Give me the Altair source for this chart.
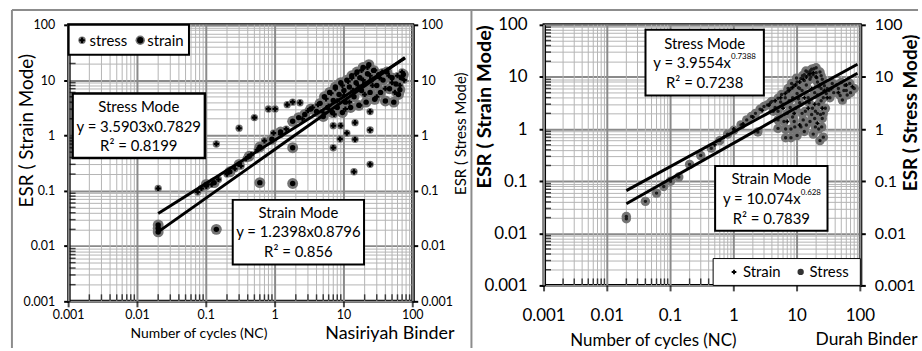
import altair as alt
import pandas as pd

FONT = "Lato"

# ---------------- Nasiriyah binder ----------------
nas_stress_nc = [0.02, 0.075, 0.085, 0.1, 0.12, 0.14, 0.15, 0.2, 0.26, 0.3, 0.32, 0.38, 0.45, 0.5,
                 0.55, 0.7, 0.8, 0.95, 1.0, 1.2, 1.45, 1.5, 1.8, 2.3, 2.5, 3.0, 3.5, 4.2,
                 5, 5.5, 6, 6.5, 7, 7, 7.2, 7.5, 8, 8.8, 9, 9.5, 10, 10.5, 11, 11.5, 12, 13,
                 13.5, 14, 14.5, 14.5, 15, 16, 17, 18, 19, 20, 22, 24, 24, 24, 24, 26, 28, 30,
                 33, 36, 40, 45, 50, 55, 60, 65, 70, 75]
nas_stress_esr = [0.11, 0.095, 0.11, 0.12, 0.13, 0.7, 0.16, 0.2, 0.25, 1.35, 0.28, 0.38, 0.45, 2.1,
                  0.55, 0.8, 3.0, 1.1, 3.0, 1.05, 1.3, 3.6, 4.0, 3.9, 2.0, 2.8, 3.2, 3.6,
                  2.6, 4.6, 3.4, 5.8, 0.6, 1.5, 2.4, 7.0, 4.2, 0.86, 1.5, 8.0, 5.3, 3.0, 1.1, 9.5, 4.0, 11.0,
                  6.5, 0.22, 0.85, 1.7, 13.0, 8.0, 3.5, 15.0, 10.0, 5.5, 17.0, 0.3, 1.25, 2.7, 12.0, 8.0, 15.0, 5.0,
                  11.0, 14.0, 7.0, 12.0, 9.0, 6.0, 12.0, 8.0, 14.0, 10.0]
nas_strain_nc = [0.02, 0.02, 0.02, 0.1, 0.13, 0.14, 0.22, 0.3, 0.42, 0.6, 0.6, 0.9, 1.2, 1.8, 1.8,
                 1.8, 2.2, 2.7, 3.3, 4, 4.5,
                 5, 5.2, 5.8, 6.2, 6.8, 7, 7.5, 8, 8.5, 9, 9.5, 10, 10.5, 11, 12, 12.5, 13, 14,
                 15, 15.5, 16.5, 17, 18, 19, 20, 21, 22, 23, 24, 25, 27, 28, 30, 32, 34, 37, 40,
                 42, 46, 50, 53, 57, 62, 65, 68, 73]
nas_strain_esr = [0.018, 0.021, 0.024, 0.13, 0.14, 0.02, 0.22, 0.3, 0.42, 0.14, 0.62, 0.85, 1.15, 0.135, 0.6,
                  1.8, 2.1, 2.4, 3.0, 2.7, 3.8,
                  2.2, 5.0, 3.2, 6.0, 2.6, 4.3, 7.5, 3.2, 5.5, 9.0, 2.6, 6.5, 4.0, 10.0, 7.5, 3.2, 12.0, 5.0,
                  9.0, 14.0, 3.5, 11.0, 6.5, 17.0, 8.5, 4.0, 13.0, 19.0, 6.0, 10.0, 15.0, 4.5, 8.0, 12.5, 6.0, 10.0, 4.2,
                  14.0, 7.0, 11.0, 4.0, 8.5, 5.5, 6.7, 11.0, 12.6]

# power-law trend lines (end points)
nas_fit_nc = [0.02, 77, 0.02, 77]
nas_fit_esr = [0.0386, 24.8, 0.018, 25.6]
nas_fit_mode = ["Stress", "Stress", "Strain", "Strain"]

# ---------------- Durah binder ----------------
dur_stress_nc = [0.02, 0.02, 0.04, 0.06, 0.078, 0.1, 0.135, 0.2, 0.3, 0.44, 0.6, 0.8, 1.0, 1.3, 1.6,
                 1.9, 2.2, 2.4, 2.6, 3.0, 3.4, 4, 4.5, 5, 5, 5, 5, 5.7, 6, 6.6, 6.6, 7, 7, 7.5, 8, 8,
                 8, 8.5, 9, 9, 9.5, 10, 10, 11, 11.5, 12, 12.5, 13, 13, 13.5, 14, 14.6, 15, 16, 16,
                 17, 17.5, 18, 18.5, 19, 19, 20, 21, 22, 22, 23, 23, 24, 25, 25, 26, 28, 30, 33,
                 38, 42, 48, 52, 55, 57, 62, 68, 80,
                 6.2, 7.8, 9.2, 10.5, 12, 14, 15.5, 17, 19.5, 21, 23.5, 26, 11, 13, 16.5, 20, 24,
                 3.8, 4.2, 5.5, 6.5, 7.2, 8.2, 9.8, 10.5, 12.2, 13.8, 15.2, 16.2, 18, 20.5, 22, 24,
                 27, 29, 32, 36, 45, 50, 60, 70, 8.5, 10, 11.5, 19.5, 21, 24.5, 26]
dur_stress_esr = [0.019, 0.021, 0.041, 0.059, 0.079, 0.1, 0.12, 0.21, 0.31, 0.43, 0.6, 0.8, 0.95, 1.2, 1.5,
                  1.75, 2.0, 0.88, 2.4, 2.7, 2.9, 3.4, 2.6, 3.9, 1.03, 1.5, 2.2, 4.6, 3.0, 0.68, 1.0, 5.2, 2.0, 3.5, 0.68, 1.0,
                  6.0, 4.0, 6.9, 1.4, 2.5, 8.0, 4.8, 3.2, 9.3, 5.5, 1.5, 0.9, 11.0, 2.2, 7.0, 12.4, 4.0, 1.4, 9.0,
                  14.0, 2.5, 0.8, 14.3, 5.0, 1.6, 12.0, 8.0, 1.0, 3.0, 12.4, 0.6, 6.0, 1.6, 9.0, 4.0, 2.5, 6.0, 4.0,
                  5.0, 7.0, 4.4, 3.6, 5.5, 6.9, 4.5, 7.5, 6.0,
                  1.4, 2.6, 1.1, 3.8, 2.0, 1.2, 3.2, 1.9, 2.2, 4.5, 1.9, 2.0, 6.0, 8.5, 10.0, 15.0, 10.5,
                  3.2, 2.2, 3.3, 4.0, 6.0, 7.5, 9.5, 6.2, 10.5, 13.0, 11.0, 13.2, 11.0, 9.6, 6.5, 3.5,
                  6.8, 4.8, 5.5, 7.5, 6.0, 7.8, 5.5, 5.0, 1.7, 0.75, 1.1, 1.1, 2.0, 1.1, 0.7]
dur_strain_nc = [0.5, 0.7, 1.0, 1.4, 2, 2.8, 3.6, 4.5, 5.5, 6.5, 7.5, 8.5, 9.5, 11, 12.5, 14, 16, 18,
                 20, 6, 7, 9, 11, 13, 15, 17, 19, 21, 23, 25, 27, 30, 35, 45, 60, 75]
dur_strain_esr = [0.5, 0.7, 1.0, 1.25, 1.7, 2.3, 2.9, 3.5, 4.0, 4.8, 5.5, 6.3, 7.0, 8.0, 9.0, 10.0, 11.5, 12.0,
                  10.0, 2.5, 1.4, 2.0, 1.2, 4.0, 2.5, 6.0, 3.0, 1.3, 7.0, 2.5, 5.5, 4.0, 6.0, 5.0, 7.0, 6.5]

dur_fit_nc = [0.02, 90, 0.02, 90]
dur_fit_esr = [0.066, 17.5, 0.037, 11.8]
dur_fit_mode = ["Stress", "Stress", "Strain", "Strain"]

# ---------------- axis ticks ----------------
MAJORS = [0.001, 0.01, 0.1, 1, 10, 100]
MAJOR_LABELS = ["0.001", "0.01", "0.1", "1", "10", "100"]
TICKS = [m * 10.0 ** e for e in range(-3, 2) for m in range(1, 10)] + [100.0]
MINORS = [t for t in TICKS if t not in MAJORS]
IS_MAJOR = "indexof([0.001, 0.01, 0.1, 1, 10, 100], datum.value) >= 0"
LABEL_EXPR = f"{IS_MAJOR} ? format(datum.value, '.3~f') : ''"
LOG = alt.Scale(type="log", domain=[0.001, 100])

ONE = pd.DataFrame({"k": [0]})
GRAY = "#747474"
GRID_MAJOR = "#8a8a8a"
GRID_MINOR = "#b4b4b4"


def y_axis(orient, label_size, label_pad, title, title_x, title_y, title_size,
           title_weight="normal", grid=True, values=None):
    kw = dict(
        orient=orient, values=values if values is not None else TICKS,
        labelExpr=LABEL_EXPR, labelFont=FONT, labelFontSize=label_size, labelColor="black",
        labelPadding=label_pad, labelOverlap=False, labelFlush=False, labelBound=False,
        tickColor="black", tickWidth=2, tickSize=5,
        tickOpacity={"condition": {"test": IS_MAJOR, "value": 1}, "value": 0},
        domainColor="black", domainWidth=3, grid=grid,
        title=title, titleFont=FONT, titleFontSize=title_size, titleFontWeight=title_weight,
        titleColor="black", titleX=title_x, titleY=title_y, titleAngle=270,
        titleAlign="center", titleBaseline="middle",
    )
    if grid:
        kw["gridColor"] = {"condition": {"test": IS_MAJOR, "value": GRID_MAJOR}, "value": GRID_MINOR}
        kw["gridWidth"] = {"condition": {"test": IS_MAJOR, "value": 2}, "value": 1}
    return alt.Axis(**kw)


def xq(axis=None):
    return alt.X("nc:Q", scale=LOG, axis=axis)


def yq(axis=None):
    return alt.Y("esr:Q", scale=LOG, axis=axis)


def txt(text, x, y, size, align="center", weight="normal", baseline="middle"):
    return alt.Chart(ONE).mark_text(
        text=text, align=align, baseline=baseline, font=FONT, fontSize=size,
        fontWeight=weight, color="black"
    ).encode(x=alt.value(x), y=alt.value(y))


def box(x, x2, y, y2, sw):
    return alt.Chart(ONE).mark_rect(fill="white", stroke="black", strokeWidth=sw).encode(
        x=alt.value(x), x2=alt.value(x2), y=alt.value(y), y2=alt.value(y2))


def dot(x, y, shape, size, color):
    return alt.Chart(ONE).mark_point(shape=shape, size=size, filled=True, color=color, opacity=1).encode(
        x=alt.value(x), y=alt.value(y))


def frame_line(x, x2, y, y2):
    return alt.Chart(ONE).mark_rule(color="#8c8c8c", strokeWidth=2).encode(
        x=alt.value(x), x2=alt.value(x2), y=alt.value(y), y2=alt.value(y2))


def x_grid_ticks_labels(H, label_y, label_size):
    mdf = pd.DataFrame({"nc": MINORS, "esr": MINORS})
    jdf = pd.DataFrame({"nc": MAJORS, "lbl": MAJOR_LABELS})
    grid_minor = alt.Chart(mdf).mark_rule(color=GRID_MINOR, strokeWidth=1).encode(
        x=xq(), y=alt.value(0), y2=alt.value(H))
    grid_major = alt.Chart(jdf).mark_rule(color=GRID_MAJOR, strokeWidth=2).encode(
        x=xq(), y=alt.value(0), y2=alt.value(H))
    inner_bottom = alt.Chart(mdf).mark_tick(color="black", size=6, thickness=1.5).encode(
        x=xq(), y=alt.value(H - 4))
    inner_left = alt.Chart(mdf).mark_tick(color="black", size=6, thickness=1.5).encode(
        y=yq(), x=alt.value(4))
    outer = alt.Chart(jdf).mark_tick(color="black", size=6, thickness=2).encode(
        x=xq(), y=alt.value(H + 3))
    labels = alt.Chart(jdf).mark_text(font=FONT, fontSize=label_size, color="black",
                                      baseline="middle").encode(
        x=xq(), y=alt.value(label_y), text="lbl:N")
    return [grid_minor, grid_major, inner_bottom, inner_left, outer, labels]


def points(df, shape, size, color):
    return alt.Chart(df).mark_point(shape=shape, size=size, filled=True, color=color, opacity=1).encode(
        x=xq(), y=yq())


# ================= Nasiriyah panel =================
W1, H1 = 346, 278
nas_st = pd.DataFrame({"nc": nas_stress_nc, "esr": nas_stress_esr})
nas_sn = pd.DataFrame({"nc": nas_strain_nc, "esr": nas_strain_esr})
nas_fit = pd.DataFrame({"nc": nas_fit_nc, "esr": nas_fit_esr, "mode": nas_fit_mode})

nas_axes = alt.Chart(nas_fit).mark_point(opacity=0).encode(
    x=xq(),
    y=yq(y_axis("left", 12.5, 9, "ESR ( Strain Mode)", -42, 106, 19)),
)
nas_right = alt.Chart(nas_fit).mark_point(opacity=0).encode(
    x=xq(),
    y=yq(y_axis("right", 12.5, 3, "ESR ( Stress Mode)", 48, 109, 15, grid=False, values=MAJORS)),
)

left_layers = [nas_axes, nas_right] + x_grid_ticks_labels(H1, 291.5, 12.5) + [
    points(nas_sn, "circle", 120, GRAY),
    points(nas_st, "circle", 55, GRAY),
    points(nas_sn, "circle", 30, "black"),
    points(nas_st, "cross", 28, "black"),
    alt.Chart(nas_fit).mark_line(color="black", strokeWidth=3).encode(
        x=xq(), y=yq(), detail="mode:N"),
    # legend
    box(0, 121, 0, 30, 2),
    dot(13.5, 15.5, "circle", 55, GRAY), dot(13.5, 15.5, "cross", 30, "black"),
    txt("stress", 21, 16, 15, align="left"),
    dot(72, 15.5, "circle", 90, GRAY), dot(72, 15.5, "circle", 40, "black"),
    txt("strain", 79, 16, 15, align="left"),
    # regression boxes
    box(4, 137, 69, 134, 2.5),
    txt("Stress Mode", 70.5, 83, 15),
    txt("y = 3.5903x0.7829", 70.5, 103, 15),
    txt("R\u00b2 = 0.8199", 70.5, 122, 15),
    box(165, 297, 176, 241, 2),
    txt("Strain Mode", 231, 189, 15),
    txt("y = 1.2398x0.8796", 231, 208, 15),
    txt("R\u00b2 = 0.856", 231, 228, 15),
    txt("Number of cycles (NC)", 131, 311, 14),
    txt("Nasiriyah Binder", 258, 311, 18, align="left"),
    frame_line(-57, -57, -15, 325),
    frame_line(-57, 854, -15, -15),
]
nas_chart = alt.layer(*left_layers).properties(width=W1, height=H1).resolve_axis(y="independent")

# ================= Durah panel =================
W2, H2 = 318, 262
dur_st = pd.DataFrame({"nc": dur_stress_nc, "esr": dur_stress_esr})
dur_sn = pd.DataFrame({"nc": dur_strain_nc, "esr": dur_strain_esr})
dur_fit = pd.DataFrame({"nc": dur_fit_nc, "esr": dur_fit_esr, "mode": dur_fit_mode})

dur_axes = alt.Chart(dur_fit).mark_point(opacity=0).encode(
    x=xq(),
    y=yq(y_axis("left", 17, 12, "ESR ( Strain Mode)", -60, 82, 20, title_weight="bold")),
)
dur_right = alt.Chart(dur_fit).mark_point(opacity=0).encode(
    x=xq(),
    y=yq(y_axis("right", 16, 9, "ESR ( Stress Mode)", 50, 88, 19, title_weight="bold",
                grid=False, values=MAJORS)),
)

right_layers = [dur_axes, dur_right] + x_grid_ticks_labels(H2, 293, 17) + [
    points(dur_st, "circle", 90, GRAY),
    points(dur_st, "circle", 12, "#1a1a1a"),
    points(dur_sn, "cross", 16, "black"),
    alt.Chart(dur_fit).mark_line(color="black", strokeWidth=3).encode(
        x=xq(), y=yq(), detail="mode:N"),
    box(102, 221, 5, 71, 2),
    txt("Stress Mode", 161.5, 19, 15),
    txt("y = 3.9554x", 188, 38, 15, align="right"),
    txt("0.7388", 188, 32, 8, align="left"),
    txt("R\u00b2 = 0.7238", 161.5, 59, 15),
    box(172, 285, 142, 207, 2),
    txt("Strain Mode", 228.5, 155, 15),
    txt("y = 10.074x", 258, 175, 15, align="right"),
    txt("0.628", 258, 169, 8, align="left"),
    txt("R\u00b2 = 0.7839", 228.5, 195, 15),
    # legend
    box(170, 318, 235, 262, 1),
    dot(191, 248.5, "cross", 22, "black"),
    txt("Strain", 200, 249, 15, align="left"),
    dot(258, 248.5, "circle", 40, "#333333"),
    txt("Stress", 267, 249, 15, align="left"),
    txt("Number of cycles (NC)", 110, 318, 17),
    txt("Durah Binder", 273, 317, 17.5, align="left"),
    frame_line(-73, -73, -15, 325),
]
dur_chart = alt.layer(*right_layers).properties(width=W2, height=H2).resolve_axis(y="independent")

chart = alt.hconcat(nas_chart, dur_chart, spacing=132, bounds="flush").properties(
    padding={"left": 9, "top": 6, "right": 0, "bottom": 0},
    background="white",
).configure_view(stroke="black", strokeWidth=3)

chart.save("out.html", embed_options={"renderer": "svg", "actions": False})
